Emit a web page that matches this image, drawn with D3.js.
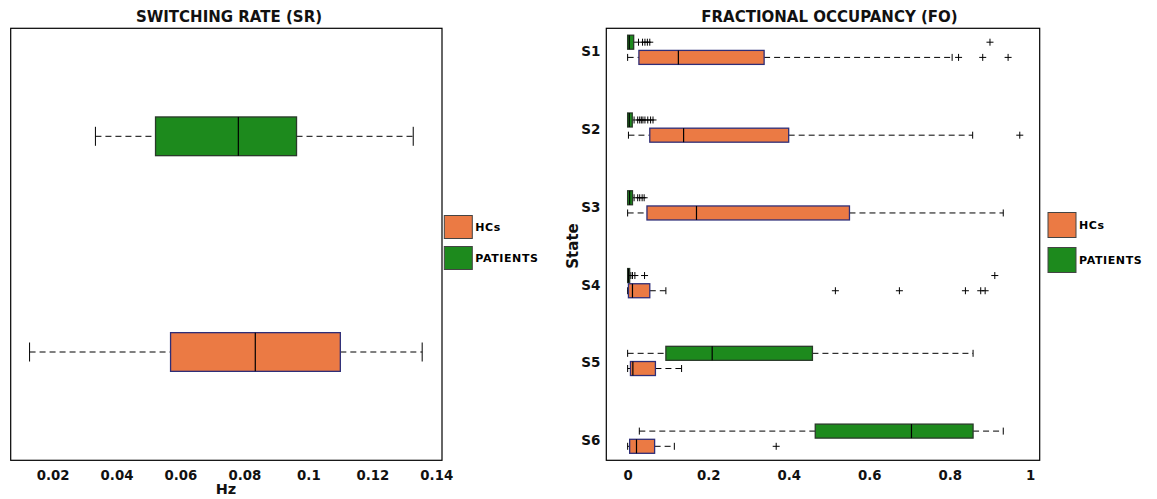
<!DOCTYPE html>
<html>
<head>
<meta charset="utf-8">
<script src="https://cdn.jsdelivr.net/npm/d3@7"></script>
<style>
  html, body { margin: 0; padding: 0; background: #fff; }
  svg { display: block; font-family: "DejaVu Sans", Verdana, sans-serif; font-weight: bold; }
</style>
</head>
<body>
<svg id="chart" width="1157" height="499"></svg>
<script>
// ---------- DATA ----------
const groups = ["HCs", "PATIENTS"];
const groupColors = ["#EB7A44", "#1D8A1D"];
const groupStrokes = ["#2E2E78", "#2A3A2A"];

// Switching rate (Hz)
const srGroups = ["PATIENTS", "HCs"];
const srWhiskerLow  = [0.0334, 0.0128];
const srQ1          = [0.0522, 0.0569];
const srMedian      = [0.0781, 0.0834];
const srQ3          = [0.0963, 0.1100];
const srWhiskerHigh = [0.1328, 0.1356];
const srTicks = [0.02, 0.04, 0.06, 0.08, 0.1, 0.12, 0.14];
const srDomain = [0.0069, 0.1418];

// Fractional occupancy
const states = ["S1", "S2", "S3", "S4", "S5", "S6"];
const foPatLow  = [0, 0, 0, 0, 0, 0.029];
const foPatQ1   = [0, 0, 0, 0, 0.095, 0.466];
const foPatMed  = [0.004, 0.004, 0.005, 0.002, 0.21, 0.705];
const foPatQ3   = [0.015, 0.0115, 0.012, 0.005, 0.459, 0.858];
const foPatHigh = [0.027, 0.016, 0.016, 0.008, 0.858, 0.933];
const foPatOut  = [
  [0.037, 0.043, 0.049, 0.055, 0.900],
  [0.025, 0.030, 0.034, 0.038, 0.043, 0.050, 0.057, 0.063],
  [0.025, 0.030, 0.036, 0.041],
  [0.012, 0.018, 0.042, 0.912],
  [],
  []
];
const foHcLow  = [0, 0.002, 0, 0, 0, 0];
const foHcQ1   = [0.028, 0.055, 0.048, 0.002, 0.007, 0.005];
const foHcMed  = [0.126, 0.139, 0.171, 0.012, 0.013, 0.022];
const foHcQ3   = [0.339, 0.400, 0.551, 0.055, 0.069, 0.067];
const foHcHigh = [0.806, 0.857, 0.933, 0.095, 0.134, 0.116];
const foHcOut  = [
  [0.822, 0.882, 0.945],
  [0.974],
  [],
  [0.516, 0.675, 0.839, 0.877, 0.888],
  [],
  [0.369]
];
const foTicks = [0, 0.2, 0.4, 0.6, 0.8, 1];
const foDomain = [-0.053, 1.0235];

// ---------- DRAW ----------
const svg = d3.select("#chart");

function drawBox(g, x, yc, h, low, q1, med, q3, high, fill, stroke, capH) {
  const dash = "6,4";
  g.append("line").attr("x1", x(low)).attr("x2", x(q1)).attr("y1", yc).attr("y2", yc)
    .attr("stroke", "#000").attr("stroke-width", 1).attr("stroke-dasharray", dash);
  g.append("line").attr("x1", x(q3)).attr("x2", x(high)).attr("y1", yc).attr("y2", yc)
    .attr("stroke", "#000").attr("stroke-width", 1).attr("stroke-dasharray", dash);
  [low, high].forEach(v => {
    g.append("line").attr("x1", x(v)).attr("x2", x(v)).attr("y1", yc - capH).attr("y2", yc + capH)
      .attr("stroke", "#000").attr("stroke-width", 1);
  });
  g.append("rect").attr("x", x(q1)).attr("y", yc - h / 2)
    .attr("width", Math.max(1, x(q3) - x(q1))).attr("height", h)
    .attr("fill", fill).attr("stroke", stroke).attr("stroke-width", 1.3);
  g.append("line").attr("x1", x(med)).attr("x2", x(med)).attr("y1", yc - h / 2).attr("y2", yc + h / 2)
    .attr("stroke", "#000").attr("stroke-width", 1.2);
}

function drawOutliers(g, x, yc, vals) {
  vals.forEach(v => {
    g.append("path").attr("d", `M${x(v) - 3.5},${yc}H${x(v) + 3.5}M${x(v)},${yc - 3.5}V${yc + 3.5}`)
      .attr("stroke", "#000").attr("stroke-width", 1).attr("fill", "none");
  });
}

function drawLegend(g, lx, ly, bw, bh, gap) {
  groups.forEach((name, i) => {
    const y0 = ly + i * (bh + gap);
    g.append("rect").attr("x", lx).attr("y", y0).attr("width", bw).attr("height", bh)
      .attr("fill", groupColors[i]).attr("stroke", "#444").attr("stroke-width", 1);
    g.append("text").attr("x", lx + bw + 3).attr("y", y0 + bh / 2 + 4)
      .attr("font-size", 11).attr("letter-spacing", 0.6).attr("fill", "#000").text(name);
  });
}

// ----- Left panel: Switching rate -----
{
  const g = svg.append("g");
  const x = d3.scaleLinear().domain(srDomain).range([10.7, 442]);
  const y = d3.scalePoint().domain(srGroups).range([136.3, 352]);
  const top = 28.3, bottom = 460.3;
  g.append("rect").attr("x", x.range()[0]).attr("y", top)
    .attr("width", x.range()[1] - x.range()[0]).attr("height", bottom - top)
    .attr("fill", "none").attr("stroke", "#000").attr("stroke-width", 1.2);
  const axis = d3.axisBottom(x).tickValues(srTicks).tickSize(0).tickPadding(10)
    .tickFormat(d => d3.format("")(+d.toFixed(2)));
  const ax = g.append("g").attr("transform", `translate(0,${bottom})`).call(axis);
  ax.select(".domain").remove();
  ax.selectAll("text").attr("font-size", 13.3).attr("font-family", "DejaVu Sans").attr("font-weight", "bold").attr("fill", "#111");
  srGroups.forEach((grp, i) => {
    const gi = groups.indexOf(grp);
    drawBox(g, x, y(grp), 38.7, srWhiskerLow[i], srQ1[i], srMedian[i], srQ3[i], srWhiskerHigh[i],
      groupColors[gi], groupStrokes[gi], 9.5);
  });
  g.append("text").attr("x", 229).attr("y", 22).attr("text-anchor", "middle")
    .attr("font-size", 15).attr("fill", "#111").text("SWITCHING RATE (SR)");
  g.append("text").attr("x", 226).attr("y", 494).attr("text-anchor", "middle")
    .attr("font-size", 14.5).attr("fill", "#111").text("Hz");
  drawLegend(g, 444.3, 215.5, 28, 23, 8);
}

// ----- Right panel: Fractional occupancy -----
{
  const g = svg.append("g");
  const x = d3.scaleLinear().domain(foDomain).range([606.3, 1039.7]);
  const y = d3.scalePoint().domain(states).range([49.8, 438.7]);
  const top = 28.3, bottom = 460.3;
  g.append("rect").attr("x", x.range()[0]).attr("y", top)
    .attr("width", x.range()[1] - x.range()[0]).attr("height", bottom - top)
    .attr("fill", "none").attr("stroke", "#000").attr("stroke-width", 1.2);
  const axis = d3.axisBottom(x).tickValues(foTicks).tickSize(0).tickPadding(10)
    .tickFormat(d => d3.format("")(+d.toFixed(1)));
  const ax = g.append("g").attr("transform", `translate(0,${bottom})`).call(axis);
  ax.select(".domain").remove();
  ax.selectAll("text").attr("font-size", 13.3).attr("font-family", "DejaVu Sans").attr("font-weight", "bold").attr("fill", "#111");
  const yAxis = d3.axisLeft(y).tickSize(0).tickPadding(6);
  const ay = g.append("g").attr("transform", `translate(${x.range()[0]},0)`).call(yAxis);
  ay.select(".domain").remove();
  ay.selectAll("text").attr("font-size", 13.5).attr("font-family", "DejaVu Sans").attr("font-weight", "bold")
    .attr("fill", "#111").attr("dy", "0.45em");

  const boxH = 14, off = 7.6;
  states.forEach((s, i) => {
    const yc = y(s);
    // patients (green), above
    drawBox(g, x, yc - off, boxH, foPatLow[i], foPatQ1[i], foPatMed[i], foPatQ3[i], foPatHigh[i],
      groupColors[1], groupStrokes[1], 3.5);
    drawOutliers(g, x, yc - off, foPatOut[i]);
    // HCs (orange), below
    drawBox(g, x, yc + off, boxH, foHcLow[i], foHcQ1[i], foHcMed[i], foHcQ3[i], foHcHigh[i],
      groupColors[0], groupStrokes[0], 3.5);
    drawOutliers(g, x, yc + off, foHcOut[i]);
  });

  g.append("text").attr("x", 829.5).attr("y", 22).attr("text-anchor", "middle")
    .attr("font-size", 15).attr("fill", "#111").text("FRACTIONAL OCCUPANCY (FO)");
  g.append("text").attr("transform", "translate(577.5,246) rotate(-90)").attr("text-anchor", "middle")
    .attr("font-size", 15).attr("fill", "#111").text("State");
  drawLegend(g, 1048, 212.5, 28, 25, 10);
}
</script>
</body>
</html>
